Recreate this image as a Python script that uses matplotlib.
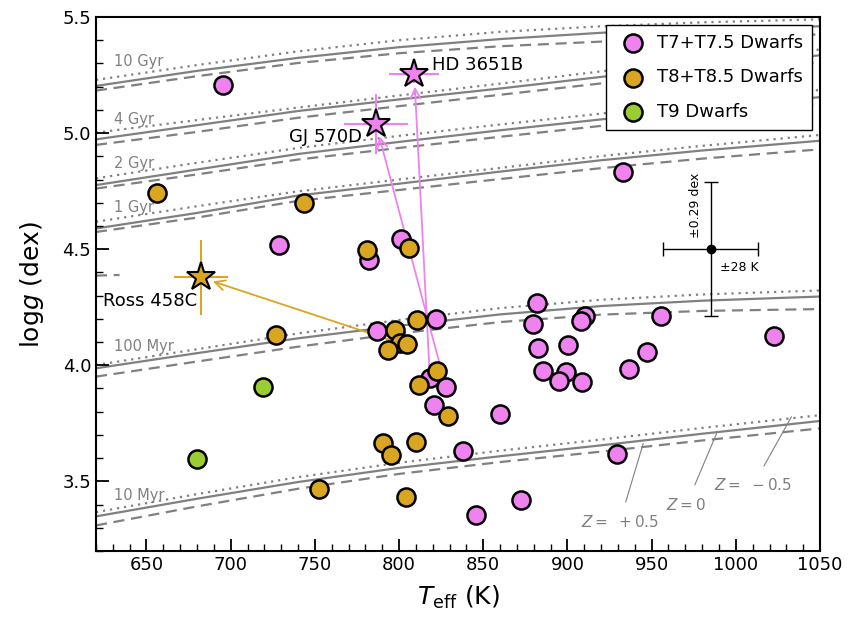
import numpy as np
import matplotlib
matplotlib.use("Agg")
import matplotlib.pyplot as plt
from matplotlib.ticker import MultipleLocator

# T7+T7.5 dwarfs
t7_teff = [695.6, 728.9, 801.0, 782.3, 787.0, 821.9, 818.3, 827.8, 820.9, 837.7,
           845.7, 882.1, 879.3, 910.4, 907.8, 955.6, 1022.9, 882.6, 900.1, 947.0,
           885.6, 899.1, 895.1, 908.8, 936.3, 859.9, 929.6, 872.2, 932.8]
t7_logg = [5.209, 4.52, 4.545, 4.455, 4.149, 4.201, 3.944, 3.905, 3.83, 3.631,
           3.357, 4.270, 4.177, 4.210, 4.192, 4.21, 4.125, 4.073, 4.089, 4.056,
           3.977, 3.97, 3.932, 3.929, 3.982, 3.791, 3.618, 3.418, 4.832]

# T8+T8.5 dwarfs
t8_teff = [656.0, 743.3, 805.9, 781.0, 726.9, 797.6, 810.4, 800.5, 804.5, 793.6,
           822.3, 812.0, 829.2, 790.2, 795.0, 810.0, 752.6, 804.1]
t8_logg = [4.74, 4.70, 4.505, 4.498, 4.132, 4.152, 4.195, 4.095, 4.09, 4.066,
           3.977, 3.915, 3.782, 3.666, 3.612, 3.670, 3.467, 3.432]

# T9 dwarfs
t9_teff = [719.0, 680.2]
t9_logg = [3.906, 3.598]

# benchmark companions
bench_names = ["HD 3651B", "GJ 570D", "Ross 458C"]
bench_teff = [809.0, 786.3, 682.4]
bench_logg = [5.254, 5.038, 4.378]
bench_terr = [15.0, 19.0, 16.0]
bench_gerr = [0.04, 0.13, 0.16]
bench_colors = ["violet", "violet", "goldenrod"]
# where the arrows start (field-dwarf position of each object)
arrow_teff = [818.3, 827.8, 800.5]
arrow_logg = [3.944, 3.905, 4.095]

# isochrones (Z=-0.5 dotted, Z=0 solid, Z=+0.5 dashed)
iso_teff = [620, 680, 740, 800, 860, 920, 980, 1050]
iso_ages = ["10 Myr", "100 Myr", "1 Gyr", "2 Gyr", "4 Gyr", "10 Gyr"]
iso_m05 = {
    "10 Myr":  [3.367, 3.445, 3.518, 3.580, 3.632, 3.680, 3.730, 3.785],
    "100 Myr": [4.001, 4.069, 4.137, 4.195, 4.246, 4.282, 4.305, 4.322],
    "1 Gyr":   [4.618, 4.685, 4.749, 4.800, 4.850, 4.901, 4.945, 4.992],
    "2 Gyr":   [4.805, 4.872, 4.936, 4.988, 5.037, 5.084, 5.132, 5.186],
    "4 Gyr":   [5.002, 5.056, 5.110, 5.162, 5.213, 5.266, 5.312, 5.360],
    "10 Gyr":  [5.229, 5.293, 5.352, 5.400, 5.436, 5.460, 5.477, 5.490],
}
iso_z0 = {
    "10 Myr":  [3.349, 3.425, 3.497, 3.558, 3.608, 3.655, 3.705, 3.760],
    "100 Myr": [3.987, 4.052, 4.116, 4.170, 4.219, 4.255, 4.278, 4.296],
    "1 Gyr":   [4.589, 4.656, 4.731, 4.782, 4.834, 4.883, 4.925, 4.967],
    "2 Gyr":   [4.776, 4.843, 4.910, 4.962, 5.012, 5.059, 5.105, 5.155],
    "4 Gyr":   [4.973, 5.034, 5.095, 5.145, 5.192, 5.242, 5.288, 5.335],
    "10 Gyr":  [5.203, 5.268, 5.324, 5.370, 5.405, 5.432, 5.449, 5.460],
}
iso_p05 = {
    "10 Myr":  [3.310, 3.392, 3.468, 3.532, 3.583, 3.628, 3.676, 3.728],
    "100 Myr": [3.951, 4.016, 4.080, 4.137, 4.186, 4.218, 4.234, 4.242],
    "1 Gyr":   [4.574, 4.636, 4.708, 4.755, 4.802, 4.849, 4.890, 4.930],
    "2 Gyr":   [4.761, 4.822, 4.886, 4.936, 4.984, 5.031, 5.076, 5.125],
    "4 Gyr":   [4.949, 5.005, 5.066, 5.116, 5.165, 5.214, 5.258, 5.305],
    "10 Gyr":  [5.183, 5.245, 5.302, 5.344, 5.374, 5.394, 5.410, 5.425],
}
label_logg = {"10 Myr": 3.44, "100 Myr": 4.08, "1 Gyr": 4.678,
              "2 Gyr": 4.869, "4 Gyr": 5.059, "10 Gyr": 5.307}

# short fragment near the left edge
frag_teff = [620, 634]
frag_logg = [4.386, 4.389]

fig = plt.figure(figsize=(8.56, 6.23), dpi=100)
ax = fig.add_axes([0.1121, 0.1156, 0.8459, 0.8571])

gray = "#808080"
for age in iso_ages:
    ax.plot(iso_teff, iso_m05[age], color=gray, ls=(0, (1, 2.2)), lw=1.6, zorder=1)
    ax.plot(iso_teff, iso_z0[age], color=gray, ls="-", lw=1.6, zorder=1)
    ax.plot(iso_teff, iso_p05[age], color=gray, ls=(0, (5, 3)), lw=1.6, zorder=1)
    ax.text(630.5, label_logg[age], age, color=gray, fontsize=10.5, va="center", ha="left")
ax.plot(frag_teff, frag_logg, color=gray, ls=(0, (5, 3)), lw=1.6, zorder=1)

# arrows from field position to benchmark
for i in range(3):
    ax.annotate("", xy=(bench_teff[i], bench_logg[i]),
                xytext=(arrow_teff[i], arrow_logg[i]),
                arrowprops=dict(arrowstyle="->", color=bench_colors[i], lw=1.3,
                                shrinkA=0, shrinkB=9, mutation_scale=18),
                zorder=2)

ms = 170
ax.scatter(t7_teff, t7_logg, s=ms, c="violet", edgecolors="black", linewidths=1.8,
           zorder=3, label="T7+T7.5 Dwarfs")
ax.scatter(t8_teff, t8_logg, s=ms, c="goldenrod", edgecolors="black", linewidths=1.8,
           zorder=3, label="T8+T8.5 Dwarfs")
ax.scatter(t9_teff, t9_logg, s=ms, c="yellowgreen", edgecolors="black", linewidths=1.8,
           zorder=3, label="T9 Dwarfs")

for i in range(3):
    ax.errorbar(bench_teff[i], bench_logg[i], xerr=bench_terr[i], yerr=bench_gerr[i],
                fmt="none", ecolor=bench_colors[i], elinewidth=1.5, capsize=0, zorder=4)
    ax.plot(bench_teff[i], bench_logg[i], marker="*", ms=21, color=bench_colors[i],
            mec="black", mew=1.5, zorder=5)

ax.text(819.5, 5.292, bench_names[0], fontsize=13, ha="left", va="center")
ax.text(778, 4.983, bench_names[1], fontsize=13, ha="right", va="center")
ax.text(624, 4.275, bench_names[2], fontsize=13, ha="left", va="center")

# typical uncertainty
ax.errorbar(985, 4.5, xerr=28, yerr=0.29, fmt="o", color="black", ms=6,
            elinewidth=1, capsize=5, capthick=1, zorder=4)
ax.text(976, 4.69, "±0.29 dex", rotation=90, fontsize=9, ha="center", va="center")
ax.text(990.5, 4.419, "±28 K", fontsize=9, ha="left", va="center")

# metallicity labels
zlab = dict(color=gray, fontsize=11, ha="center", va="center")
zarrow = dict(arrowstyle="-", color=gray, lw=0.8, shrinkA=7, shrinkB=0)
ax.annotate(r"$Z =\ +0.5$", xy=(945, 3.663), xytext=(931, 3.324), arrowprops=zarrow, **zlab)
ax.annotate(r"$Z = 0$", xy=(988.5, 3.705), xytext=(970.7, 3.40), arrowprops=zarrow, **zlab)
ax.annotate(r"$Z =\ -0.5$", xy=(1033, 3.778), xytext=(1010.3, 3.483), arrowprops=zarrow, **zlab)

ax.set_xlim(620, 1050)
ax.set_ylim(3.2, 5.5)
ax.xaxis.set_major_locator(MultipleLocator(50))
ax.xaxis.set_minor_locator(MultipleLocator(10))
ax.yaxis.set_major_locator(MultipleLocator(0.5))
ax.yaxis.set_minor_locator(MultipleLocator(0.1))
ax.tick_params(which="both", direction="in", labelsize=13)
ax.tick_params(which="major", length=9, width=1.3)
ax.tick_params(which="minor", length=5, width=1.0)
for sp in ax.spines.values():
    sp.set_linewidth(1.5)

ax.set_xlabel(r"$T_{\rm eff}$ (K)", fontsize=18, labelpad=7)
ax.set_ylabel(r"log$g$ (dex)", fontsize=18, labelpad=12)

leg = ax.legend(loc="upper right", fontsize=13, fancybox=False, framealpha=1,
                edgecolor="black", labelspacing=0.9, handletextpad=0.3,
                borderpad=0.5, borderaxespad=0, scatterpoints=1,
                bbox_to_anchor=(0.989, 0.985))
leg.set_zorder(10)
leg.get_frame().set_linewidth(1.0)

fig.savefig("out.png", dpi=100)
